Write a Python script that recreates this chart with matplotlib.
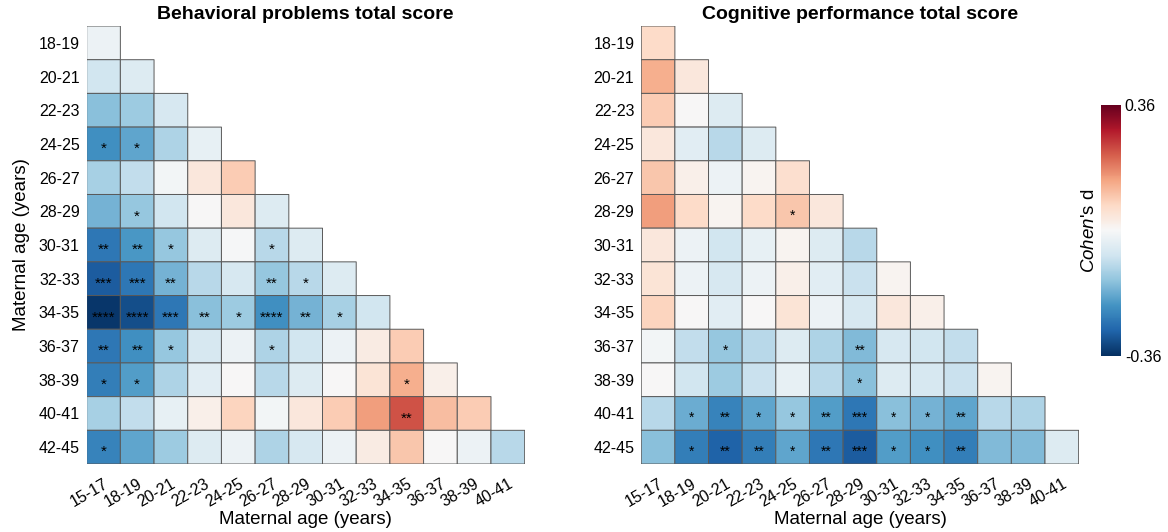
import numpy as np
import matplotlib
matplotlib.use('Agg')
import matplotlib.pyplot as plt

plt.rcParams['font.family'] = ['Liberation Sans', 'DejaVu Sans']
plt.rcParams['mathtext.fontset'] = 'custom'
plt.rcParams['mathtext.it'] = 'Liberation Sans:italic'
plt.rcParams['mathtext.rm'] = 'Liberation Sans'

## labels
row_labels = ['18-19', '20-21', '22-23', '24-25', '26-27', '28-29', '30-31',
              '32-33', '34-35', '36-37', '38-39', '40-41', '42-45']
col_labels = ['15-17', '18-19', '20-21', '22-23', '24-25', '26-27', '28-29',
              '30-31', '32-33', '34-35', '36-37', '38-39', '40-41']

## Cohen's d, lower triangle, one list per row
behav_d = [
    [-0.02],
    [-0.07, -0.05],
    [-0.15, -0.13, -0.06],
    [-0.22, -0.19, -0.11, -0.03],
    [-0.12, -0.09, -0.01, 0.04, 0.09],
    [-0.17, -0.14, -0.07, 0.00, 0.04, -0.05],
    [-0.26, -0.21, -0.14, -0.05, -0.005, -0.10, -0.05],
    [-0.30, -0.26, -0.17, -0.10, -0.06, -0.14, -0.10, -0.05],
    [-0.35, -0.32, -0.26, -0.15, -0.13, -0.22, -0.17, -0.12, -0.07],
    [-0.26, -0.22, -0.14, -0.06, -0.02, -0.11, -0.07, -0.02, 0.03, 0.09],
    [-0.25, -0.20, -0.11, -0.04, 0.00, -0.10, -0.05, 0.00, 0.05, 0.13, 0.02],
    [-0.12, -0.09, -0.03, 0.02, 0.08, -0.01, 0.04, 0.09, 0.15, 0.23, 0.11, 0.09],
    [-0.24, -0.19, -0.13, -0.05, -0.02, -0.11, -0.06, -0.02, 0.03, 0.10, 0.00, -0.02, -0.10],
]
behav_sig = [
    [''],
    ['', ''],
    ['', '', ''],
    ['*', '*', '', ''],
    ['', '', '', '', ''],
    ['', '*', '', '', '', ''],
    ['**', '**', '*', '', '', '*', ''],
    ['***', '***', '**', '', '', '**', '*', ''],
    ['****', '****', '***', '**', '*', '****', '**', '*', ''],
    ['**', '**', '*', '', '', '*', '', '', '', ''],
    ['*', '*', '', '', '', '', '', '', '', '*', ''],
    ['', '', '', '', '', '', '', '', '', '**', '', ''],
    ['*', '', '', '', '', '', '', '', '', '', '', '', ''],
]

cogn_d = [
    [0.07],
    [0.13, 0.04],
    [0.09, 0.00, -0.05],
    [0.04, -0.04, -0.10, -0.05],
    [0.10, 0.02, -0.02, 0.01, 0.06],
    [0.15, 0.07, 0.01, 0.07, 0.10, 0.04],
    [0.04, -0.02, -0.07, -0.03, 0.01, -0.05, -0.10],
    [0.05, -0.02, -0.06, -0.02, 0.02, -0.04, -0.08, 0.01],
    [0.08, 0.00, -0.04, 0.00, 0.05, -0.02, -0.06, 0.04, 0.02],
    [-0.01, -0.09, -0.14, -0.10, -0.05, -0.11, -0.16, -0.06, -0.07, -0.09],
    [0.00, -0.07, -0.13, -0.08, -0.03, -0.10, -0.15, -0.05, -0.06, -0.08, 0.01],
    [-0.10, -0.18, -0.24, -0.19, -0.14, -0.20, -0.26, -0.15, -0.17, -0.19, -0.10, -0.11],
    [-0.15, -0.25, -0.29, -0.25, -0.19, -0.26, -0.30, -0.20, -0.22, -0.25, -0.16, -0.16, -0.05],
]
cogn_sig = [
    [''],
    ['', ''],
    ['', '', ''],
    ['', '', '', ''],
    ['', '', '', '', ''],
    ['', '', '', '', '*', ''],
    ['', '', '', '', '', '', ''],
    ['', '', '', '', '', '', '', ''],
    ['', '', '', '', '', '', '', '', ''],
    ['', '', '*', '', '', '', '**', '', '', ''],
    ['', '', '', '', '', '', '*', '', '', '', ''],
    ['', '*', '**', '*', '*', '**', '***', '*', '*', '**', '', ''],
    ['', '*', '**', '**', '*', '**', '***', '*', '*', '**', '', '', ''],
]

vlim = 0.36
cmap = plt.get_cmap('RdBu_r')


def to_matrix(rows):
    n = len(rows)
    m = np.full((n, n), np.nan)
    for i, r in enumerate(rows):
        m[i, :len(r)] = r
    return np.ma.masked_invalid(m)


def draw_panel(ax, rows, sig, title, star_size, star_off):
    mat = to_matrix(rows)
    n = mat.shape[0]
    # pcolor skips masked cells, so only the lower triangle gets drawn
    mesh = ax.pcolor(np.arange(n + 1), np.arange(n + 1), mat, cmap=cmap,
                     vmin=-vlim, vmax=vlim, edgecolors='0.35', linewidth=0.7)
    for i, r in enumerate(sig):
        for j, s in enumerate(r):
            if s:
                ax.text(j + 0.5, i + 0.5 + star_off, s, ha='center', va='baseline',
                        fontsize=star_size, color='black')
    ax.set_xlim(0, n)
    ax.set_ylim(n, 0)
    ax.set_xticks(np.arange(n) + 0.5)
    ax.set_yticks(np.arange(n) + 0.5)
    ax.set_xticklabels(col_labels, rotation=30, ha='right', rotation_mode='anchor', fontsize=11.5)
    ax.set_yticklabels(row_labels, fontsize=11.5)
    ax.tick_params(axis='y', length=0, pad=5)
    ax.tick_params(axis='x', length=0, pad=9)
    for sp in ax.spines.values():
        sp.set_visible(False)
    ax.set_title(title, fontsize=14, fontweight='bold', pad=5)
    ax.set_xlabel('Maternal age (years)', fontsize=13.5, labelpad=1)
    return mesh


fig = plt.figure(figsize=(11.68, 5.32), dpi=100)
ax1 = fig.add_axes([0.0742, 0.1278, 0.375, 0.8233])
ax2 = fig.add_axes([0.5490, 0.1278, 0.3745, 0.8233])

draw_panel(ax1, behav_d, behav_sig, 'Behavioral problems total score', 11, 0.27)
mesh = draw_panel(ax2, cogn_d, cogn_sig, 'Cognitive performance total score', 10, 0.25)
ax1.set_ylabel('Maternal age (years)', fontsize=13.5, labelpad=6)

#----- colorbar
cax = fig.add_axes([0.9424, 0.3314, 0.0171, 0.4712])
cbar = fig.colorbar(mesh, cax=cax, ticks=[-vlim, vlim])
cbar.outline.set_visible(False)
cbar.ax.set_yticklabels(['-0.36', '0.36'], fontsize=11.5)
cbar.ax.tick_params(length=0, pad=3)
cbar.ax.yaxis.set_label_position('left')
cbar.ax.set_ylabel(r"$\it{Cohen}$'s d", fontsize=13.5, labelpad=2)

plt.savefig('out.png', dpi=100)
plt.close()
